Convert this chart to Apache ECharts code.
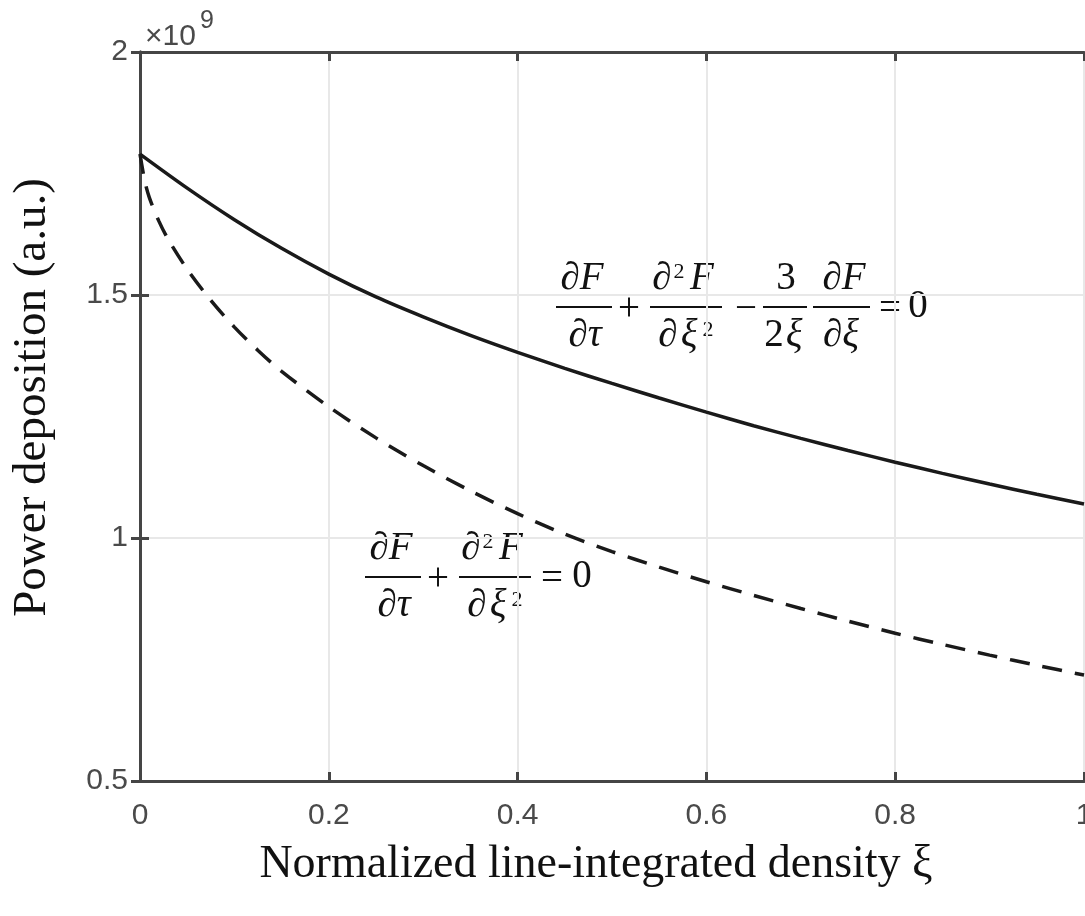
<!DOCTYPE html>
<html>
<head>
<meta charset="utf-8">
<script src="https://cdn.jsdelivr.net/npm/echarts@6/dist/echarts.min.js"></script>
<style>
  html, body { margin: 0; padding: 0; background: #fff; overflow: hidden; }
  #chart { width: 1085px; height: 916px; }
</style>
</head>
<body>
<div id="chart"></div>
<script>
// values, in units of 1e9
var xTicks = [0, 0.2, 0.4, 0.6, 0.8, 1]
var yTicks = [0.5, 1, 1.5, 2]

var solidX = [0, 0.05, 0.1, 0.15, 0.2, 0.25, 0.3, 0.35, 0.4, 0.45, 0.5,
  0.55, 0.6, 0.65, 0.7, 0.75, 0.8, 0.85, 0.9, 0.95, 1]
var solidY = [1.79, 1.72, 1.655, 1.596, 1.543, 1.496, 1.455, 1.417, 1.382, 1.349, 1.318,
  1.288, 1.259, 1.231, 1.205, 1.18, 1.156, 1.133, 1.111, 1.09, 1.07]

var dashX = [0, 0.005, 0.01, 0.02, 0.03, 0.05, 0.075, 0.1, 0.125, 0.15, 0.2, 0.25, 0.3, 0.35, 0.4,
  0.45, 0.5, 0.55, 0.6, 0.65, 0.7, 0.75, 0.8, 0.85, 0.9, 0.95, 1]
var dashY = [1.79, 1.735, 1.70, 1.652, 1.614, 1.553, 1.489, 1.434, 1.386, 1.343, 1.27, 1.206, 1.149, 1.097, 1.05,
  1.008, 0.972, 0.94, 0.91, 0.882, 0.855, 0.829, 0.804, 0.781, 0.759, 0.738, 0.718]

var axisColor = '#454545'
var labelColor = '#4a4a4a'
var serif = '"Liberation Serif", "Times New Roman", serif'
var sans = '"Liberation Sans", Arial, sans-serif'

function pairs (xs, ys) {
  return xs.map(function (x, i) { return [x, ys[i]] })
}

// small text helper for the equations
function txt (x, y, s, size, italic, family, color, align) {
  return {
    type: 'text', x: x, y: y, silent: true,
    style: {
      text: s, fill: color || '#111',
      font: (italic ? 'italic ' : '') + size + 'px ' + (family || serif),
      align: align || 'center', verticalAlign: 'middle'
    }
  }
}
function bar (x1, x2, y) {
  return {
    type: 'line', silent: true,
    shape: { x1: x1, y1: y, x2: x2, y2: y },
    style: { stroke: '#111', lineWidth: 2 }
  }
}

// dF/dτ + d²F/dξ² ... ; ox = left end of first fraction bar, oy = bar height
function equation (ox, oy, full) {
  var fs = 39
  var els = [
    txt(ox + 26, oy - 28, '∂F', fs, true),
    bar(ox, ox + 56, oy),
    txt(ox + 29, oy + 29, '∂τ', fs, true),
    txt(ox + 73, oy + 3, '+', fs, false),
    txt(ox + 106, oy - 28, '∂', fs, true),
    txt(ox + 123, oy - 35, '2', 22, false),
    txt(ox + 146, oy - 28, 'F', fs, true),
    bar(ox + 94, ox + 166, oy),
    txt(ox + 112, oy + 29, '∂', fs, true),
    txt(ox + 133, oy + 29, 'ξ', fs, true),
    txt(ox + 152, oy + 23, '2', 22, false)
  ]
  if (full) {
    els.push(
      txt(ox + 190, oy + 3, '−', fs, false),
      txt(ox + 230, oy - 28, '3', fs, false),
      bar(ox + 207, ox + 251, oy),
      txt(ox + 218, oy + 29, '2', fs, false),
      txt(ox + 238, oy + 29, 'ξ', fs, true),
      txt(ox + 288, oy - 28, '∂F', fs, true),
      bar(ox + 257, ox + 314, oy),
      txt(ox + 285, oy + 29, '∂ξ', fs, true),
      txt(ox + 334, oy + 3, '=', fs, false),
      txt(ox + 362, oy, '0', fs, false)
    )
  } else {
    els.push(
      txt(ox + 187, oy + 3, '=', fs, false),
      txt(ox + 217, oy, '0', fs, false)
    )
  }
  return els
}

var chart = echarts.init(document.getElementById('chart'))

var boxAxis = {
  axisLine: { show: true, lineStyle: { color: axisColor, width: 3 } },
  axisTick: { show: true, inside: true, length: 9, lineStyle: { color: axisColor, width: 3 } },
  axisLabel: { show: false },
  splitLine: { show: false }
}

var option = {
  animation: false,
  backgroundColor: '#fff',
  grid: { left: 140, right: 1, top: 52, bottom: 135, containLabel: false, outerBoundsMode: 'none' },
  xAxis: [
    {
      type: 'value', min: 0, max: 1, interval: 0.2,
      name: 'Normalized line-integrated density ξ',
      nameLocation: 'middle', nameGap: 61,
      nameTextStyle: { fontFamily: serif, fontSize: 46, color: '#111', padding: [0, 32, 0, 0] },
      axisLine: { show: true, lineStyle: { color: axisColor, width: 3 } },
      axisTick: { show: true, inside: true, length: 9, lineStyle: { color: axisColor, width: 3 } },
      axisLabel: { color: labelColor, fontFamily: sans, fontSize: 30, margin: 20, customValues: xTicks },
      splitLine: { show: true, lineStyle: { color: '#e8e8e8', width: 2 } }
    },
    Object.assign({ type: 'value', position: 'top', min: 0, max: 1, interval: 0.2 }, boxAxis)
  ],
  yAxis: [
    {
      type: 'value', min: 0.5, max: 2, interval: 0.5,
      name: 'Power deposition (a.u.)',
      nameLocation: 'middle', nameGap: 84, nameRotate: 90,
      nameTextStyle: { fontFamily: serif, fontSize: 47, color: '#111', padding: [0, 0, 0, 38] },
      axisLine: { show: true, lineStyle: { color: axisColor, width: 3 } },
      axisTick: { show: true, inside: true, length: 9, lineStyle: { color: axisColor, width: 3 } },
      axisLabel: { color: labelColor, fontFamily: sans, fontSize: 30, margin: 12, customValues: yTicks },
      splitLine: { show: true, lineStyle: { color: '#e8e8e8', width: 2 } }
    },
    Object.assign({ type: 'value', position: 'right', min: 0.5, max: 2, interval: 0.5 }, boxAxis)
  ],
  series: [
    {
      name: 'with 3/2ξ term',
      type: 'line',
      data: pairs(solidX, solidY),
      showSymbol: false,
      smooth: 0.3,
      lineStyle: { color: '#1a1a1a', width: 3.5, type: 'solid' }
    },
    {
      name: 'diffusion only',
      type: 'line',
      data: pairs(dashX, dashY),
      showSymbol: false,
      smooth: 0.3,
      lineStyle: { color: '#1a1a1a', width: 3.5, type: [20, 13] }
    }
  ],
  graphic: [
    // exponent marker on the y axis
    txt(145, 37, '×10', 30, false, sans, labelColor, 'left'),
    txt(200, 21, '9', 25, false, sans, labelColor, 'left')
  ].concat(equation(556, 307, true), equation(365, 577, false))
}

chart.setOption(option)
window.onresize = chart.resize
</script>
</body>
</html>
